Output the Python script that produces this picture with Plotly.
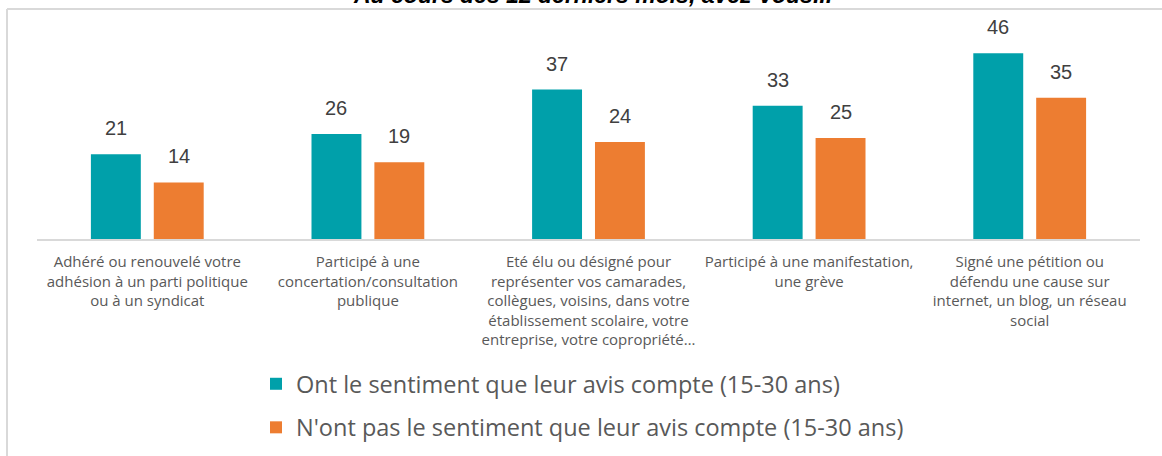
import plotly.graph_objects as go

categories = [
    "Adhéré ou renouvelé votre<br>adhésion à un parti politique<br>ou à un syndicat",
    "Participé à une<br>concertation/consultation<br>publique",
    "Eté élu ou désigné pour<br>représenter vos camarades,<br>collègues, voisins, dans votre<br>établissement scolaire, votre<br>entreprise, votre copropriété…",
    "Participé à une manifestation,<br>une grève",
    "Signé une pétition ou<br>défendu une cause sur<br>internet, un blog, un réseau<br>social",
]
series_names = [
    "Ont le sentiment que leur avis compte (15-30 ans)",
    "N'ont pas le sentiment que leur avis compte (15-30 ans)",
]
values_compte = [21, 26, 37, 33, 46]
values_pas_compte = [14, 19, 24, 25, 35]
colors = ["#00A0AA", "#ED7D31"]
title_text = "Au cours des 12 derniers mois, avez-vous..."

W, H = 1162, 456
ml, mr, mt, mb = 37, 22, 10, 217
pw = W - ml - mr
ph = H - mt - mb
bar_offset_px = 31.5

def px_x(px):
    return (px - ml) / pw

def px_y(py):
    return (H - mb - py) / ph

fig = go.Figure()
annotations = []
for i, (name, vals, col, grp) in enumerate([
    (series_names[0], values_compte, colors[0], "g1"),
    (series_names[1], values_pas_compte, colors[1], "g2"),
]):
    fig.add_trace(go.Bar(
        x=categories, y=vals, name=name, marker_color=col,
        marker_line_width=0, legendgroup=grp,
    ))
    shift = -bar_offset_px if i == 0 else bar_offset_px
    for c, v in zip(categories, vals):
        annotations.append(dict(
            x=c, y=v, xref="x", yref="y", text=str(v), showarrow=False,
            xanchor="center", yanchor="bottom", xshift=shift, yshift=13,
            font=dict(family="Liberation Sans, Arial", size=20, color="#404040"),
        ))

annotations.append(dict(
    text="<b><i>" + title_text + "</i></b>", xref="paper", yref="paper",
    x=px_x(592), y=px_y(-5), xanchor="center", yanchor="middle",
    showarrow=False,
    font=dict(family="Liberation Sans, Arial", size=23, color="#000000"),
))

fig.update_layout(
    template="none",
    width=W, height=H,
    margin=dict(l=ml, r=mr, t=mt, b=mb, autoexpand=False),
    paper_bgcolor="white", plot_bgcolor="white",
    barmode="group", bargap=0.43, bargroupgap=0.206,
    font=dict(family="Open Sans, Lato, sans-serif", color="#595959"),
    xaxis=dict(
        showline=True, linecolor="#D9D9D9", linewidth=2, automargin=False,
        showgrid=False, zeroline=False, ticks="", tickfont=dict(size=15, color="#595959"),
        tickangle=0, ticklabelstandoff=8,
    ),
    yaxis=dict(range=[0, 56.7], visible=False, automargin=False),
    showlegend=True,
    legend=dict(
        orientation="v", x=px_x(256), xanchor="left",
        y=px_y(362), yanchor="top",
        font=dict(size=23.5, color="#595959"),
        tracegroupgap=10, traceorder="grouped",
        itemwidth=30, bgcolor="rgba(0,0,0,0)",
    ),
    shapes=[
        dict(type="line", xref="paper", yref="paper",
             x0=px_x(7), x1=px_x(1170), y0=px_y(9), y1=px_y(9),
             line=dict(color="#D9D9D9", width=2)),
        dict(type="line", xref="paper", yref="paper",
             x0=px_x(7), x1=px_x(7), y0=px_y(9), y1=px_y(470),
             line=dict(color="#D9D9D9", width=2)),
    ],
    annotations=annotations,
)

fig.write_html(
    "out.html",
    config={"displayModeBar": False},
    post_script="document.body.style.margin='0';document.body.style.overflow='hidden';",
)
